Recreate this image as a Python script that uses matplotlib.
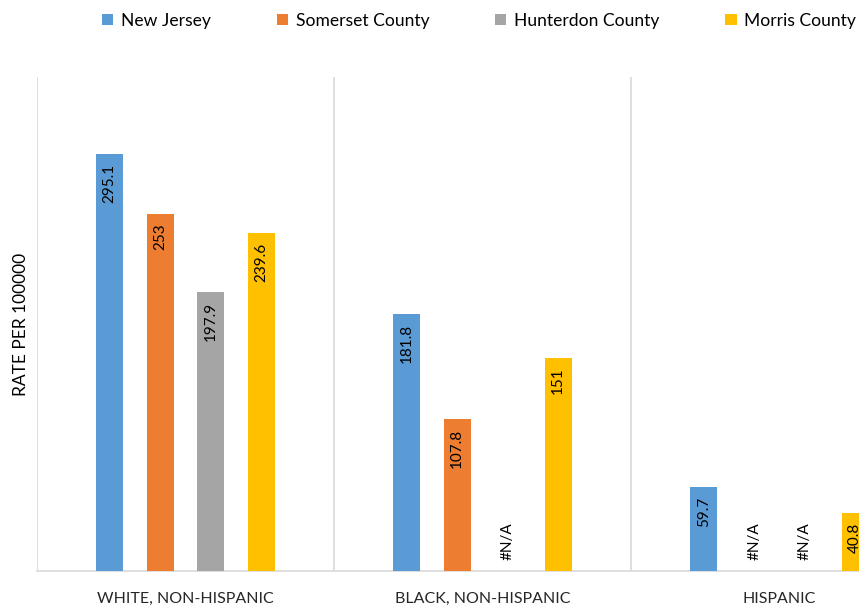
import numpy as np
import matplotlib
matplotlib.use("Agg")
import matplotlib.pyplot as plt

plt.rcParams['font.family'] = ['Lato', 'DejaVu Sans']

categories = ["WHITE, NON-HISPANIC", "BLACK, NON-HISPANIC", "HISPANIC"]
series_names = ["New Jersey", "Somerset County", "Hunterdon County", "Morris County"]
new_jersey = [295.1, 181.8, 59.7]
somerset = [253, 107.8, None]
hunterdon = [197.9, None, None]
morris = [239.6, 151, 40.8]
series_values = [new_jersey, somerset, hunterdon, morris]
colors = ["#5B9BD5", "#ED7D31", "#A5A5A5", "#FFC000"]

fig = plt.figure(figsize=(8.59, 6.06), dpi=100)
# the plot area runs past the right edge of the canvas
ax = fig.add_axes([37 / 859, 35 / 606, 891 / 859, 494 / 606])

x = np.arange(len(categories))
offsets = [-0.255, -0.085, 0.085, 0.255]
width = 0.092

handles = []
for vals, name, col, off in zip(series_values, series_names, colors, offsets):
    heights = [v if v is not None else 0 for v in vals]
    bars = ax.bar(x + off, heights, width=width, color=col, label=name, zorder=3)
    handles.append(bars)
    for xi, v in zip(x, vals):
        if v is None:
            ax.annotate("#N/A", (xi + off, 0), xytext=(0, 8), textcoords="offset points",
                        rotation=90, ha="center", va="bottom", fontsize=11, color="#000000")
        else:
            ax.annotate(f"{v:g}", (xi + off, v), xytext=(0, -7), textcoords="offset points",
                        rotation=90, ha="center", va="top", fontsize=11, color="#000000")

ax.set_xlim(-0.5, 2.5)
ax.set_ylim(0, 350)
for b in [-0.5, 0.5, 1.5, 2.5]:
    ax.axvline(b, color="#D9D9D9", lw=1.2, zorder=1)

for s in ["top", "right", "left"]:
    ax.spines[s].set_visible(False)
ax.spines["bottom"].set_color("#D9D9D9")
ax.spines["bottom"].set_linewidth(1.2)

ax.set_yticks([])
ax.set_xticks(x)
ax.set_xticklabels(categories, fontsize=11.5, color="#262626")
ax.tick_params(axis="x", length=0, pad=15)
ax.set_ylabel("RATE PER 100000", fontsize=12.5, color="#000000", labelpad=6)

fig.legend(handles=handles, labels=series_names, loc="upper left",
           bbox_to_anchor=(86 / 859, 1.005), ncol=4, frameon=False, fontsize=12.6,
           handlelength=0.65, handleheight=0.65, handletextpad=0.45, columnspacing=3.75)

fig.savefig("out.png", dpi=100)
